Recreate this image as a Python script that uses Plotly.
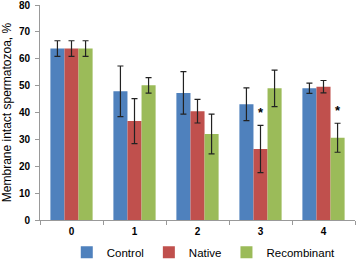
import plotly.graph_objects as go

categories = ["0", "1", "2", "3", "4"]
control = [63.8, 47.9, 47.3, 43.1, 49.0]
control_err = [2.9, 9.4, 7.9, 6.1, 1.9]
native = [63.8, 36.8, 40.5, 26.4, 49.6]
native_err = [2.9, 8.4, 4.4, 8.8, 2.3]
recombinant = [63.8, 50.1, 32.0, 49.0, 30.6]
recombinant_err = [2.9, 2.9, 7.4, 6.8, 5.4]
# significance markers: (category index, series name)
significant = [(3, "Native"), (4, "Recombinant")]

series = [
    ("Control", control, control_err, "#4F81BD"),
    ("Native", native, native_err, "#C0504D"),
    ("Recombinant", recombinant, recombinant_err, "#9BBB59"),
]

fig = go.Figure()
for name, vals, errs, color in series:
    fig.add_trace(go.Bar(
        x=categories, y=vals, name=name,
        marker=dict(color=color, line=dict(width=0)),
        error_y=dict(type="data", array=errs, visible=True,
                     color="#222222", thickness=1.2, width=3),
    ))

bar_px = 14
names = [s[0] for s in series]
for ci, sname in significant:
    si = names.index(sname)
    vals = series[si][1]
    errs = series[si][2]
    fig.add_annotation(
        x=categories[ci], y=vals[ci] + errs[ci], text="<b>*</b>",
        showarrow=False, xshift=(si - 1) * bar_px, yanchor="bottom", yshift=3,
        font=dict(size=13, color="black", family="Liberation Sans"),
    )

fig.update_layout(
    width=358, height=259,
    margin=dict(l=40, r=3, t=5, b=39, autoexpand=False),
    plot_bgcolor="white", paper_bgcolor="white",
    barmode="group", bargap=0.33, bargroupgap=0,
    font=dict(family="Liberation Sans", color="black"),
    showlegend=True,
    legend=dict(orientation="h", x=0.085, xanchor="left", y=-0.083, yanchor="top",
                font=dict(size=11.5), itemwidth=30, traceorder="normal",
                bgcolor="rgba(0,0,0,0)", tracegroupgap=0),
    xaxis=dict(showline=True, linecolor="#999999", linewidth=1, automargin=False,
               ticks="outside", tickson="boundaries", ticklen=4, tickcolor="#999999",
               tickfont=dict(size=10, family="Liberation Sans"), ticklabelstandoff=2,
               showgrid=False),
    yaxis=dict(range=[0, 80], dtick=10, showline=True, linecolor="#999999", linewidth=1,
               automargin=False, ticklabeloverflow="allow",
               ticks="outside", ticklen=4, tickcolor="#999999", showgrid=False,
               tickfont=dict(size=10, family="Liberation Sans"), ticklabelstandoff=3,
               title=dict(text="Membrane intact spermatozoa, %", font=dict(size=12), standoff=6)),
)
fig.update_xaxes(tickprefix="<b>", ticksuffix="</b>")
fig.update_yaxes(tickprefix="<b>", ticksuffix="</b>")

fig.write_html("out.html", config={"displayModeBar": False},
               post_script="document.body.style.margin='0';")
